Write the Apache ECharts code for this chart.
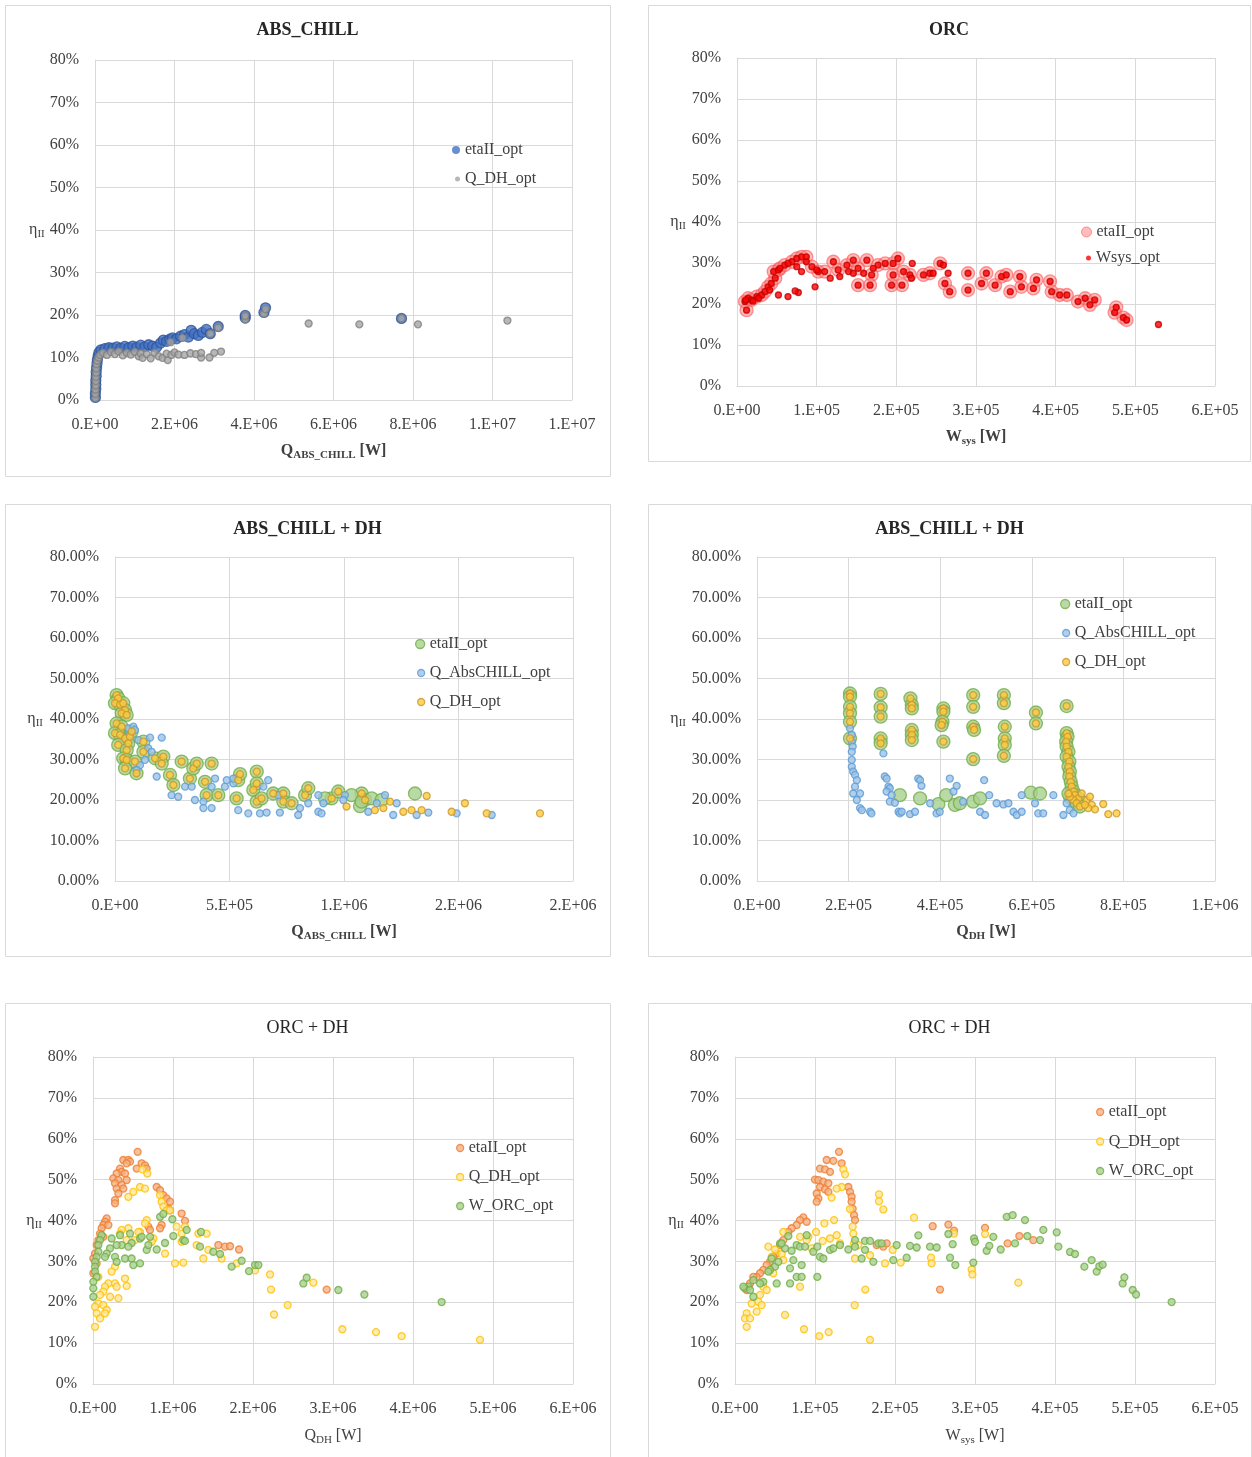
<!DOCTYPE html>
<html><head><meta charset="utf-8">
<script src="https://cdn.jsdelivr.net/npm/echarts/dist/echarts.min.js"></script>
<style>html,body{margin:0;padding:0;background:#fff}#c{width:1252px;height:1457px}</style>
</head><body><div id="c"></div>
<script>
// ---------- DATA (x in stated unit, y in %) ----------
// Panel 1: ABS_CHILL, x in 1e6 W
const absEta = [[0.01,0.6],[0.01,1.6],[0.02,2.6],[0.02,3.6],[0.02,4.6],[0.03,5.6],[0.03,6.6],[0.04,7.6],[0.05,8.6],[0.06,9.5],[0.08,10.4],[0.1,11.2],
[0.15,11.8],[0.25,12.1],[0.35,12.3],[0.45,12.2],[0.55,12.5],[0.65,12.2],[0.75,12.6],[0.85,12.3],[0.95,12.7],[1.05,12.4],[1.15,12.9],[1.25,12.5],[1.35,13.0],[1.45,12.7],[1.55,12.4],
[1.65,13.4],[1.72,14.1],[1.8,13.8],[1.88,14.3],[1.95,14.6],[2.05,14.4],[2.15,15.0],[2.25,15.4],[2.35,14.8],[2.42,16.4],[2.5,15.6],[2.6,15.2],[2.7,15.9],[2.8,16.6],[2.9,15.6],[3.1,17.3],[3.78,19.3],[3.78,19.9],[4.25,20.6],[4.29,21.7],[7.71,19.2]];
const absQdh = [[0.01,0.5],[0.01,1.5],[0.01,2.5],[0.02,3.5],[0.02,4.5],[0.02,5.5],[0.03,6.5],[0.03,7.5],[0.04,8.5],[0.06,9.3],[0.09,10.0],[0.13,10.6],
[0.2,11.1],[0.3,10.6],[0.4,11.3],[0.5,10.8],[0.6,11.4],[0.7,10.5],[0.8,11.1],[0.9,10.7],[1.0,11.3],[1.1,10.3],[1.15,11.0],[1.2,9.9],[1.3,10.8],[1.4,9.8],[1.5,11.1],[1.6,10.3],[1.7,9.9],[1.83,9.4],[1.8,10.9],[1.92,10.6],[2.0,11.2],[2.1,10.7],[2.25,10.6],[2.4,11.0],[2.54,10.8],[2.67,10.0],[2.67,11.1],[2.88,10.0],[3.0,11.1],[3.17,11.4],
[1.9,13.6],[2.2,14.6],[2.9,15.6],[3.1,17.0],[3.78,19.0],[3.78,19.8],[4.25,20.3],[4.29,21.4],[7.71,19.2],
[5.375,18.0],[6.65,17.8],[8.125,17.8],[10.375,18.7]];

// Panel 2: ORC, x in 1e5 W
const orcBoth = [[0.12,18.5],[0.10,20.6],[0.14,21.4],[0.18,21.0],[0.25,21.8],[0.31,22.2],[0.35,23.0],[0.39,24.2],[0.43,25.0],[0.48,26.3],[0.46,27.9],[0.52,28.3],
[0.54,28.7],[0.60,29.5],[0.69,30.3],[0.75,31.1],[0.81,31.5],[0.87,31.5],[0.94,29.1],[1.02,27.9],[1.10,27.9],[1.21,30.3],[1.27,28.3],[1.38,29.5],[1.46,30.7],[1.52,28.7],[1.63,30.7],[1.69,27.1],[1.77,29.5],[1.86,29.9],[1.96,29.9],[2.02,31.1],[1.96,27.1],[2.09,27.9],[2.17,27.1],[2.34,27.1],[2.42,27.5],[2.55,29.9],[2.61,25.0],[2.67,23.0],[1.52,24.6],[1.67,24.6],[1.94,24.6],[2.07,24.6],
[2.90,27.5],[2.90,23.4],[3.07,25.0],[3.13,27.5],[3.24,24.6],[3.32,26.7],[3.38,27.1],[3.43,23.0],[3.55,26.7],[3.57,24.2],[3.72,23.8],[3.76,25.9],[3.93,25.5],[3.95,23.0],[4.05,22.2],[4.14,22.2],[4.28,20.6],[4.37,21.4],[4.43,19.8],[4.49,21.0],[4.76,19.2],[4.74,17.9],[4.85,16.7],[4.89,16.1]];
const orcWsysOnly = [[0.11,21.0],[0.20,20.7],[0.27,21.4],[0.41,23.4],[0.52,22.2],[0.64,21.8],[0.77,22.8],[0.73,23.2],[0.98,24.2],[0.64,29.9],[0.75,29.1],[0.81,27.9],[0.87,30.3],[1.00,28.3],[1.17,26.3],[1.29,26.7],[1.40,27.9],[1.46,27.5],[1.59,27.5],[1.71,28.7],[2.20,29.9],[2.59,29.5],[2.46,27.5],[2.65,27.5],[2.19,26.3],[5.29,15.0]];

// Panel 3: ABS_CHILL + DH vs Q_ABS_CHILL, x in 1e6 W
const acShared = [[0.007,45.9],[0.014,45.1],[0.0,43.9],[0.022,43.5],[0.036,43.9],[0.044,42.2],[0.029,41.4],[0.051,41.0],[0.007,38.9],[0.029,38.1],[0.0,36.5],[0.022,36.1],[0.044,35.2],[0.065,35.6],[0.073,36.9],[0.058,34.0],[0.014,33.6],[0.051,32.3],[0.036,30.3],[0.051,29.9],[0.087,29.5],[0.124,34.4],[0.124,31.9],[0.044,27.8],[0.094,26.6],[0.175,30.3],[0.211,30.7],[0.204,29.0],[0.240,26.2],[0.255,23.7],[0.291,29.5],[0.327,25.3],[0.342,27.8],[0.357,29.0],[0.422,29.0],[0.393,24.5],[0.400,21.2],[0.451,21.2],[0.531,20.4],[0.538,24.9],[0.546,26.4],[0.604,22.5],[0.619,27.0],[0.619,24.1],[0.619,19.6],[0.640,20.4],[0.691,21.6],[0.735,21.6],[0.735,19.6],[0.771,19.2],[0.830,21.2],[0.844,22.9],[0.946,20.4],[0.975,22.1],[1.077,21.6],[1.092,20.0]];
const acEtaOnly = [[0.917,20.4],[1.033,21.2],[1.070,18.5],[1.077,19.6],[1.121,20.4],[1.164,20.0],[1.310,21.6]];
const acQdhOnly = [[1.011,18.4],[1.135,17.5],[1.172,18.0],[1.201,19.6],[1.259,17.1],[1.295,17.5],[1.339,17.5],[1.361,21.0],[1.470,17.1],[1.528,19.2],[1.623,16.7],[1.856,16.7]];
const acQabs = [[0.058,37.7],[0.080,38.1],[0.087,37.3],[0.065,36.1],[0.102,34.8],[0.153,35.4],[0.204,35.4],[0.145,32.8],[0.160,31.9],[0.131,29.9],[0.109,28.6],[0.094,27.4],[0.182,25.8],[0.247,21.2],[0.276,20.8],[0.306,23.3],[0.335,23.3],[0.349,20.0],[0.386,19.6],[0.386,18.0],[0.422,18.0],[0.422,23.3],[0.437,25.3],[0.480,23.3],[0.488,24.9],[0.517,24.1],[0.517,25.3],[0.538,17.5],[0.582,16.7],[0.633,16.7],[0.662,16.9],[0.669,24.9],[0.648,23.3],[0.713,21.2],[0.720,16.9],[0.800,16.3],[0.808,18.0],[0.844,19.2],[0.888,21.2],[0.888,17.1],[0.902,16.7],[0.910,19.2],[1.004,21.2],[0.997,20.0],[1.106,17.1],[1.143,19.2],[1.179,21.2],[1.215,16.3],[1.230,19.2],[1.317,16.3],[1.368,16.9],[1.492,16.7],[1.645,16.3]];

// Panel 4: ABS_CHILL + DH vs Q_DH, x in 1e5 W
const dhShared = [[2.03,46.3],[2.03,45.5],[2.03,43.0],[2.03,41.4],[2.03,39.3],[2.03,35.2],
[2.70,46.2],[2.70,42.9],[2.70,40.6],[2.70,35.2],[2.70,34.0],
[3.35,45.1],[3.38,43.5],[3.38,42.6],[3.38,37.3],[3.38,36.1],[3.38,34.8],
[4.07,42.6],[4.07,41.8],[4.05,39.3],[4.03,38.5],[4.07,34.4],
[4.72,45.9],[4.72,43.0],[4.72,38.1],[4.74,37.3],[4.72,30.1],
[5.39,45.9],[5.39,43.9],[5.41,38.1],[5.41,35.2],[5.41,33.6],[5.39,30.9],
[6.09,41.6],[6.09,38.9],[6.76,43.2],
[6.76,36.5],[6.78,35.6],[6.75,34.4],[6.76,33.2],[6.80,31.9],[6.76,30.7],[6.82,29.5],[6.80,28.2],[6.83,27.0],[6.82,25.8],[6.85,24.5],[6.87,23.3],[6.91,22.1],[6.94,21.2],[7.02,20.4],[6.91,20.0],[6.98,19.2],[7.05,18.4],[6.83,20.8],[6.80,21.6]];
const dhEtaOnly = [[3.12,21.2],[3.56,20.4],[3.96,19.0],[4.13,21.2],[4.32,18.8],[4.43,19.2],[4.72,19.6],[4.87,20.4],[5.98,21.8],[6.18,21.6]];
const dhQdhOnly = [[7.09,21.6],[7.20,20.0],[7.27,20.8],[7.31,18.8],[7.23,18.0],[7.38,17.7],[7.56,19.0],[7.67,16.5],[7.85,16.7],[7.16,18.8]];
const dhQabs = [[2.03,37.7],[2.07,36.1],[2.07,34.4],[2.09,33.2],[2.07,31.9],[2.07,29.9],[2.07,28.2],[2.10,27.0],[2.14,26.2],[2.18,24.9],[2.14,23.3],[2.10,21.6],[2.25,21.6],[2.18,20.0],[2.25,18.0],[2.29,17.5],[2.47,17.1],[2.50,16.7],[2.76,31.5],[2.79,25.8],[2.83,25.3],[2.87,23.3],[2.90,22.9],[2.83,22.1],[2.94,21.2],[2.90,19.6],[3.01,19.3],[3.09,17.1],[3.12,16.7],[3.16,17.1],[3.34,16.5],[3.45,17.1],[3.52,25.3],[3.56,24.9],[3.59,23.5],[3.78,19.2],[3.92,16.7],[3.99,17.1],[4.21,25.3],[4.29,22.1],[4.36,23.5],[4.50,19.6],[4.87,17.1],[4.96,24.9],[4.98,16.3],[5.07,21.2],[5.23,19.2],[5.38,18.9],[5.49,19.2],[5.60,17.1],[5.67,16.3],[5.78,17.1],[5.78,21.2],[6.07,19.2],[6.14,16.7],[6.25,16.7],[6.47,21.2],[6.69,16.3],[6.83,21.6],[6.76,19.2],[6.83,17.5],[6.91,16.7]];

// Panel 5: ORC + DH vs Q_DH, x in 1e6 W
const odEta = [[0.558,56.8],[0.379,54.8],[0.442,54.8],[0.463,54.4],[0.421,54.0],[0.338,52.7],[0.358,51.9],[0.296,51.5],[0.4,51.5],[0.254,50.3],[0.317,49.9],[0.421,49.9],[0.275,49.1],[0.358,48.7],[0.296,47.8],[0.379,47.8],[0.317,46.6],[0.275,45.0],[0.275,44.2],[0.608,54.0],[0.65,53.5],[0.671,52.7],[0.546,52.7],[0.796,48.2],[0.838,47.4],[0.879,46.2],[0.921,45.4],[0.963,44.6],[0.942,42.9],[0.963,42.5],[1.108,41.7],[1.15,39.9],[0.692,38.5],[0.713,37.7],[0.858,38.9],[0.838,38.1],[0.171,40.5],[0.15,39.7],[0.129,38.9],[0.192,38.9],[0.108,38.1],[0.088,36.8],[0.129,36.0],[0.067,35.2],[0.046,34.0],[0.025,31.9],[0.004,30.7],[0.046,29.5],[1.567,34.0],[1.65,33.6],[1.713,33.7],[1.825,32.9],[2.921,23.1],[0.004,27.1]];
const odQdh = [[0.617,52.5],[0.679,51.5],[0.588,48.2],[0.65,47.8],[0.504,47.0],[0.442,45.8],[0.838,46.2],[0.858,44.6],[0.879,43.4],[0.921,42.5],[0.963,42.5],[1.046,38.5],[0.671,40.1],[0.65,39.3],[0.588,37.2],[0.442,38.1],[0.358,37.7],[0.338,36.8],[0.421,35.2],[0.525,35.2],[0.567,37.2],[0.754,35.6],[0.733,34.8],[1.108,36.8],[1.108,34.8],[1.15,38.5],[1.317,36.8],[1.421,36.8],[1.296,34.0],[1.379,30.7],[1.442,32.8],[1.608,30.7],[1.025,29.5],[1.129,29.7],[0.9,31.9],[0.275,28.7],[0.233,27.5],[0.192,24.6],[0.275,24.6],[0.296,23.8],[0.421,24.0],[0.15,23.8],[0.129,22.6],[0.213,21.35],[0.088,21.8],[0.067,19.7],[0.129,19.3],[0.171,18.1],[0.15,17.3],[0.025,18.9],[0.046,17.3],[0.088,16.05],[0.025,14.0],[1.796,29.5],[2.025,27.8],[2.213,26.8],[2.225,23.1],[2.433,19.3],[2.263,17.0],[2.754,24.8],[3.117,13.4],[3.538,12.7],[3.858,11.7],[4.838,10.8],[0.317,21.0],[0.067,26.2],[0.4,25.8]];
const odWorc = [[0.838,40.9],[0.879,41.6],[0.992,40.3],[1.171,37.7],[1.004,36.2],[1.129,35.2],[1.15,35.0],[1.35,37.2],[1.338,33.6],[0.9,34.5],[0.671,32.8],[0.692,34.0],[0.588,35.6],[0.483,34.5],[0.358,34.0],[0.442,33.6],[0.338,36.4],[0.463,36.8],[0.608,36.0],[0.713,36.0],[0.233,35.6],[0.296,34.0],[0.213,33.2],[0.171,31.9],[0.15,31.1],[0.108,36.4],[0.088,35.2],[0.067,34.0],[0.067,32.35],[0.046,31.1],[0.025,29.9],[0.025,28.7],[0.025,27.5],[0.046,26.2],[0.004,25.0],[0.004,23.4],[0.004,21.35],[0.275,31.1],[0.296,29.9],[0.4,30.7],[0.483,30.7],[0.504,29.1],[0.588,29.5],[0.796,32.9],[1.504,32.35],[1.588,31.8],[1.733,28.7],[1.858,30.15],[1.95,27.6],[2.025,29.1],[2.067,29.1],[2.629,24.6],[2.671,26.0],[3.067,23.0],[3.392,21.9],[4.358,20.05]];

// Panel 6: ORC + DH vs W_sys, x in 1e5 W
const owEta = [[1.3,56.8],[1.146,54.8],[1.229,54.6],[1.333,54.0],[1.063,52.7],[1.125,52.5],[1.188,51.9],[1.0,50.0],[1.042,49.9],[1.104,49.5],[1.167,49.1],[1.063,48.2],[1.125,47.6],[1.021,46.6],[1.167,47.0],[1.042,45.4],[1.021,44.6],[1.417,48.2],[1.438,47.0],[1.458,45.8],[1.458,44.6],[1.471,42.9],[1.488,41.3],[1.5,40.1],[0.854,40.75],[0.813,40.1],[0.896,39.7],[0.771,38.9],[0.708,38.1],[0.667,37.2],[0.604,35.2],[0.563,34.0],[0.521,31.9],[0.479,31.1],[0.438,29.9],[0.396,29.1],[0.354,27.9],[0.313,27.1],[0.271,26.2],[0.229,26.2],[0.188,24.6],[0.146,23.0],[2.471,38.6],[2.667,39.0],[2.738,37.5],[3.125,38.2],[3.554,36.2],[3.729,35.2],[3.408,34.4],[2.563,23.1],[1.854,33.6],[1.771,34.0],[1.896,34.4]];
const owQdh = [[1.354,52.5],[1.375,51.3],[1.333,48.2],[1.271,47.8],[1.208,45.6],[1.438,42.8],[1.471,38.5],[1.479,36.8],[1.488,34.4],[1.5,30.7],[1.8,46.4],[1.8,44.7],[1.854,42.7],[2.238,40.7],[1.238,40.1],[1.117,39.3],[1.013,37.2],[0.917,36.0],[1.188,35.6],[1.271,36.4],[1.313,34.4],[1.096,35.0],[0.958,33.2],[0.896,35.2],[0.813,36.0],[0.604,37.2],[0.417,33.6],[0.5,32.9],[0.583,31.8],[0.604,30.3],[0.458,31.1],[0.438,27.9],[0.479,27.1],[0.354,23.8],[0.396,23.0],[0.313,21.8],[0.292,20.1],[0.333,19.3],[0.271,17.7],[0.208,19.7],[0.146,17.3],[0.125,16.05],[0.188,16.05],[0.146,14.0],[0.625,16.9],[0.863,13.4],[1.054,11.7],[1.171,12.7],[1.688,10.8],[1.496,19.3],[1.629,23.1],[0.813,23.8],[1.875,29.5],[2.071,29.7],[1.971,32.8],[2.45,30.9],[2.458,29.5],[2.738,36.8],[2.958,28.0],[2.967,26.8],[3.125,36.7],[3.542,24.8],[1.542,34.0],[1.688,31.5]];
const owWorc = [[0.667,36.2],[0.563,34.4],[0.625,33.2],[0.708,32.6],[0.771,34.0],[0.813,33.6],[0.875,33.6],[0.979,32.35],[1.029,33.6],[1.063,31.1],[1.104,30.7],[1.188,32.8],[1.229,33.2],[1.313,34.0],[1.417,32.9],[1.5,35.2],[1.5,33.6],[1.625,35.0],[1.688,35.0],[1.625,32.8],[1.583,30.7],[1.729,29.9],[1.792,34.4],[1.833,34.4],[1.979,30.3],[2.021,34.0],[2.146,30.9],[2.188,33.8],[2.271,33.4],[2.292,36.35],[2.438,33.6],[2.521,33.4],[2.667,36.7],[2.688,30.9],[2.721,34.2],[2.754,29.1],[2.979,29.7],[2.988,35.6],[3.0,34.8],[3.146,32.6],[3.179,33.8],[3.229,36.0],[3.321,32.9],[3.396,40.9],[3.471,41.3],[3.5,34.4],[3.625,40.1],[3.654,36.2],[3.813,35.2],[3.854,37.7],[4.021,37.1],[4.042,33.6],[4.188,32.3],[4.25,31.8],[4.367,28.7],[4.458,30.3],[4.521,27.5],[4.554,28.8],[4.596,29.2],[4.846,24.6],[4.867,26.1],[4.971,23.0],[5.013,21.9],[5.458,20.05],[0.5,28.7],[0.438,27.9],[0.354,25.0],[0.313,24.6],[0.229,25.4],[0.167,23.8],[0.125,23.4],[0.104,23.8],[0.188,23.0],[0.229,21.35],[0.521,24.6],[0.542,29.9],[0.458,30.7],[0.417,27.5],[0.688,24.6],[0.688,28.3],[0.771,26.2],[0.833,26.2],[1.029,26.2],[0.833,29.1],[0.729,30.3],[0.896,36.4],[0.583,34.4]];

// ---------- STYLE ----------
const FONT = '"Liberation Serif","Times New Roman",serif';
const TXT = '#404040';
const GRIDC = '#D9D9D9';

function sci(v){
  if (v === 0) return '0.E+00';
  let e = Math.floor(Math.log10(Math.abs(v)) + 1e-9);
  let m = Math.round(v / Math.pow(10, e));
  if (m >= 10) { m = 1; e++; }
  return m + '.E' + (e < 0 ? '-' : '+') + String(Math.abs(e)).padStart(2, '0');
}

const panels = [
  {title:'ABS_CHILL', bold:true, box:[5,5,605,471], grid:[95,60,477,340], xMax:12e6, xInt:2e6, yDec:0, xName:['Q','ABS_CHILL'], yGap:50, xGap:41,
   legend:[460,145,29], series:[
    {name:'etaII_opt', data:absEta, scale:1e6, size:10, icon:8, lb:0, fill:'#4472C4', border:'#2F5597'},
    {name:'Q_DH_opt', data:absQdh, scale:1e6, size:7, icon:5, lb:0, fill:'#A5A5A5', border:'#7F7F7F'}]},
  {title:'ORC', bold:true, box:[648,5,602,456], grid:[737,58,478,328], xMax:6e5, xInt:1e5, yDec:0, xName:['W','sys'], yGap:51, xGap:41,
   legend:[1091,227,26], series:[
    {name:'etaII_opt', data:orcBoth, scale:1e5, size:13, icon:10, lb:1, fill:'rgba(255,120,120,0.62)', border:'rgba(255,90,90,0.8)'},
    {name:'Wsys_opt', data:orcBoth.concat(orcWsysOnly), scale:1e5, size:6, icon:5, lb:0, fill:'#FF0000', border:'#C00000'}]},
  {title:'ABS_CHILL + DH', bold:true, box:[5,504,605,452], grid:[115,557,458,324], xMax:2e6, xInt:5e5, yDec:2, xName:['Q','ABS_CHILL'], yGap:72, xGap:41,
   legend:[424,639,29], series:[
    {name:'etaII_opt', data:acShared.concat(acEtaOnly), scale:1e6, size:13, icon:9, lb:1.3, fill:'#A9D18E', border:'#70AD47'},
    {name:'Q_AbsCHILL_opt', data:acQabs, scale:1e6, size:7, icon:7, lb:1.3, fill:'#9DC3E6', border:'#5B9BD5'},
    {name:'Q_DH_opt', data:acShared.concat(acQdhOnly), scale:1e6, size:7, icon:7, lb:1.3, fill:'#FFCA3A', border:'#C8962E'}]},
  {title:'ABS_CHILL + DH', bold:true, box:[648,504,603,452], grid:[757,557,458,324], xMax:1e6, xInt:2e5, yDec:2, xName:['Q','DH'], yGap:71, xGap:41,
   legend:[1069,599,29], series:[
    {name:'etaII_opt', data:dhShared.concat(dhEtaOnly), scale:1e5, size:13, icon:9, lb:1.3, fill:'#A9D18E', border:'#70AD47'},
    {name:'Q_AbsCHILL_opt', data:dhQabs, scale:1e5, size:7, icon:7, lb:1.3, fill:'#9DC3E6', border:'#5B9BD5'},
    {name:'Q_DH_opt', data:dhShared.concat(dhQdhOnly), scale:1e5, size:7, icon:7, lb:1.3, fill:'#FFCA3A', border:'#C8962E'}]},
  {title:'ORC + DH', bold:false, box:[5,1003,605,460], grid:[93,1057,480,327], xMax:6e6, xInt:1e6, yDec:0, xName:['Q','DH'], yGap:51, xGap:42,
   legend:[463,1143,29], series:[
    {name:'etaII_opt', data:odEta, scale:1e6, size:7, icon:7, lb:1.3, fill:'#F4B183', border:'#ED7D31'},
    {name:'Q_DH_opt', data:odQdh, scale:1e6, size:7, icon:7, lb:1.3, fill:'#FFE699', border:'#FFC000'},
    {name:'W_ORC_opt', data:odWorc, scale:1e6, size:7, icon:7, lb:1.3, fill:'#A9D18E', border:'#70AD47'}]},
  {title:'ORC + DH', bold:false, box:[648,1003,603,460], grid:[735,1057,480,327], xMax:6e5, xInt:1e5, yDec:0, xName:['W','sys'], yGap:51, xGap:42,
   legend:[1103,1107,29.5], series:[
    {name:'etaII_opt', data:owEta, scale:1e5, size:7, icon:7, lb:1.3, fill:'#F4B183', border:'#ED7D31'},
    {name:'Q_DH_opt', data:owQdh, scale:1e5, size:7, icon:7, lb:1.3, fill:'#FFE699', border:'#FFC000'},
    {name:'W_ORC_opt', data:owWorc, scale:1e5, size:7, icon:7, lb:1.3, fill:'#A9D18E', border:'#70AD47'}]}
];

const grid=[], xAxis=[], yAxis=[], series=[], legend=[], graphic=[];
panels.forEach((p, i) => {
  const fw = p.bold ? 'bold' : 'normal';
  const rich = {
    m:{fontSize:16, fontFamily:FONT, fontWeight:fw, color:TXT},
    s:{fontSize:11, fontFamily:FONT, fontWeight:fw, color:TXT, verticalAlign:'bottom', padding:[9,0,0,0]}
  };
  const richY = {
    m:{fontSize:16, fontFamily:FONT, color:TXT},
    s:{fontSize:11, fontFamily:FONT, color:TXT, verticalAlign:'bottom', padding:[9,0,0,0]}
  };
  graphic.push({type:'rect', shape:{x:p.box[0]+0.5, y:p.box[1]+0.5, width:p.box[2], height:p.box[3]}, style:{fill:'none', stroke:GRIDC, lineWidth:1}, silent:true});
  graphic.push({type:'text', x:p.box[0] + p.box[2]/2, y:p.box[1] + 25, style:{text:p.title, font:fw + ' 18px ' + FONT, fill:'#262626', textAlign:'center', textVerticalAlign:'middle'}, silent:true});
  grid.push({left:p.grid[0], top:p.grid[1], width:p.grid[2], height:p.grid[3], containLabel:false});
  xAxis.push({type:'value', gridIndex:i, min:0, max:p.xMax, interval:p.xInt,
    axisLine:{show:true, lineStyle:{color:GRIDC}}, axisTick:{show:false},
    splitLine:{show:true, lineStyle:{color:GRIDC, width:1}},
    axisLabel:{formatter:sci, fontFamily:FONT, fontSize:16, color:TXT, margin:17},
    name:'{m|' + p.xName[0] + '}{s|' + p.xName[1] + '}{m| [W]}', nameLocation:'middle', nameGap:p.xGap,
    nameTextStyle:{rich:rich}});
  yAxis.push({type:'value', gridIndex:i, min:0, max:80, interval:10,
    axisLine:{show:true, lineStyle:{color:GRIDC}}, axisTick:{show:false},
    splitLine:{show:true, lineStyle:{color:GRIDC, width:1}},
    axisLabel:{formatter:v => v.toFixed(p.yDec) + '%', fontFamily:FONT, fontSize:16, color:TXT, margin:16},
    name:'{m|η}{s|II}', nameLocation:'middle', nameRotate:0, nameGap:p.yGap,
    nameTextStyle:{rich:richY}});
  p.series.forEach((s, k) => {
    const nm = 'p' + i + '|' + s.name;
    series.push({type:'scatter', name:nm, xAxisIndex:i, yAxisIndex:i,
      data:s.data.map(d => [d[0]*s.scale, d[1]]), symbol:'circle', symbolSize:s.size,
      itemStyle:{color:s.fill, borderColor:s.border, borderWidth:1.3}, emphasis:{disabled:true}});
    // one legend entry per series so each icon keeps its own size
    legend.push({data:[nm], orient:'vertical', left:p.legend[0] - 5 - s.icon, top:p.legend[1] + k*p.legend[2] - 9,
      itemWidth:s.icon, itemHeight:s.icon, icon:'circle', selectedMode:false,
      itemStyle:{borderWidth:s.lb},
      formatter:n => n.split('|')[1],
      textStyle:{fontFamily:FONT, fontSize:16, color:TXT, lineHeight:18}});
  });
});

const chart = echarts.init(document.getElementById('c'), null, {renderer:'canvas'});
chart.setOption({animation:false, backgroundColor:'#fff', grid, xAxis, yAxis, series, legend, graphic});
</script></body></html>
